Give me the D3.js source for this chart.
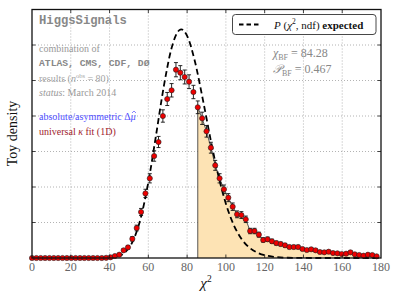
<!DOCTYPE html>
<html><head><meta charset="utf-8">
<script src="https://cdn.jsdelivr.net/npm/d3@7"></script>
<style>
html,body{margin:0;padding:0;background:#fff;}
svg{display:block;}
</style></head>
<body>
<svg id="chart" width="399" height="299"></svg>
<script>
// ---- data (toy density in units of 0.005) ----
const binCenters = [0,2.25,4.5,6.75,9,11.25,13.5,15.75,18,20.25,22.5,24.75,27,29.25,31.5,33.75,36,38.25,40.5,42.75,
45,47.25,49.5,51.75,54,56.25,58.5,60.75,63,65.25,67.5,69.75,72,74.25,76.5,78.75,81,83.25,85.5,87.75,
90,92.25,94.5,96.75,99,101.25,103.5,105.75,108,110.25,112.5,114.75,117,119.25,121.5,123.75,126,128.25,130.5,132.75,
135,137.25,139.5,141.75,144,146.25,148.5,150.75,153,155.25,157.5,159.75,162,164.25,166.5,168.75,171,173.25,175.5,177.75];
const toyDensity = [0,0,0,0,0,0,0,0,0,0,0,0,0,0,0,0,0,0.005,0.02,0.056,
0.093,0.217,0.30,0.54,0.845,1.296,1.82,2.245,2.873,3.268,4.0,4.479,4.724,5.304,5.22,5.099,4.966,4.676,4.245,3.935,
3.569,3.107,2.61,2.245,1.935,1.70,1.445,1.23,1.21,1.09,0.76,0.76,0.657,0.507,0.527,0.47,0.42,0.394,0.358,0.31,
0.31,0.31,0.254,0.225,0.245,0.217,0.169,0.16,0.177,0.14,0.132,0.113,0.121,0.16,0.104,0.085,0.065,0.093,0.085,0.048];
const toyError = [0,0,0,0,0,0,0,0,0,0,0,0,0,0,0,0,0,0.01,0.015,0.02,
0.027,0.04,0.048,0.064,0.08,0.1,0.117,0.13,0.147,0.157,0.174,0.184,0.189,0.2,0.199,0.196,0.194,0.188,0.179,0.173,
0.164,0.153,0.14,0.13,0.121,0.113,0.105,0.096,0.096,0.091,0.076,0.076,0.07,0.062,0.063,0.06,0.056,0.055,0.052,0.048,
0.048,0.048,0.044,0.041,0.043,0.04,0.036,0.035,0.037,0.033,0.032,0.029,0.03,0.035,0.028,0.025,0.022,0.027,0.025,0.019];
const expectedX = [0,20,32,36,40,44,48,52,56,60,64,68,72,76,77,80,84,88,92,96,100,104,108,112,116,120,124,128,132,136,140,150,180];
const expectedY = [0,0,0.0003,0.001,0.0078,0.0415,0.160,0.472,1.108,2.135,3.467,4.841,5.916,6.419,6.44,6.259,5.543,4.497,3.370,2.348,1.530,0.937,0.542,0.298,0.156,0.078,0.037,0.017,0.0075,0.003,0.001,0,0];
const xTicks = [0,20,40,60,80,100,120,140,160,180];
const yTicks = [0,1,2,3,4,5,6,7];
const chi2BF = 84.28;
const pBF = "0.467";

const SERIF = "'Liberation Serif','DejaVu Serif',serif";
const MONO = "'Liberation Mono','DejaVu Sans Mono',monospace";

// ---- layout ----
const L = 32, R = 381, T = 9.5, B = 258;
const svg = d3.select("#chart");
const x = d3.scaleLinear().domain([0,180]).range([L,R]);
const y = d3.scaleLinear().domain([0,7]).range([B,T]);

function txt(xp, yp, size, fill, fam){
  return svg.append("text").attr("x",xp).attr("y",yp)
    .style("font-family", fam || SERIF).style("font-size", size+"px").attr("fill",fill);
}

// grid
const grid = svg.append("g").attr("stroke","#a0a0a0").attr("stroke-width",0.8).attr("stroke-dasharray","1,2");
grid.selectAll("line.v").data(xTicks.slice(1,-1)).join("line")
  .attr("x1",d=>x(d)).attr("x2",d=>x(d)).attr("y1",T).attr("y2",B);
grid.selectAll("line.h").data(yTicks.slice(1,-1)).join("line")
  .attr("x1",L).attr("x2",R).attr("y1",d=>y(d)).attr("y2",d=>y(d));

// shaded tail area
const pts = binCenters.map((c,i)=>({x:c,v:toyDensity[i],e:toyError[i]}));
const tail = pts.filter(p=>p.x>=chi2BF);
svg.append("path").datum(tail)
  .attr("fill","#fde3b4")
  .attr("d", d3.area().x(d=>x(d.x)).y0(y(0)).y1(d=>y(d.v)));
const outline = [{x:tail[0].x,v:0}].concat(tail);
svg.append("path").datum(outline)
  .attr("fill","none").attr("stroke","#444").attr("stroke-width",0.9)
  .attr("d", d3.line().x(d=>x(d.x)).y(d=>y(d.v)));

// expected chi2 curve
svg.append("path").datum(expectedX.map((d,i)=>[d,expectedY[i]]))
  .attr("fill","none").attr("stroke","#000").attr("stroke-width",1.8)
  .attr("stroke-dasharray","6,3.5")
  .attr("d", d3.line().x(d=>x(d[0])).y(d=>y(d[1])).curve(d3.curveMonotoneX));

// error bars
const eb = svg.append("g").attr("stroke","#111").attr("stroke-width",0.9);
const withErr = pts.filter(p=>p.e>0);
eb.selectAll("line.bar").data(withErr).join("line")
  .attr("x1",d=>x(d.x)).attr("x2",d=>x(d.x)).attr("y1",d=>y(d.v-d.e)).attr("y2",d=>y(d.v+d.e));
eb.selectAll("line.capT").data(withErr).join("line")
  .attr("x1",d=>x(d.x)-2).attr("x2",d=>x(d.x)+2).attr("y1",d=>y(d.v+d.e)).attr("y2",d=>y(d.v+d.e));
eb.selectAll("line.capB").data(withErr).join("line")
  .attr("x1",d=>x(d.x)-2).attr("x2",d=>x(d.x)+2).attr("y1",d=>y(d.v-d.e)).attr("y2",d=>y(d.v-d.e));

// points
svg.append("g").selectAll("circle").data(pts).join("circle")
  .attr("cx",d=>x(d.x)).attr("cy",d=>y(d.v)).attr("r",2.6)
  .attr("fill","#ee0000").attr("stroke","#222").attr("stroke-width",0.6);

// frame and ticks
const ax = svg.append("g");
ax.append("rect").attr("x",L).attr("y",T).attr("width",R-L).attr("height",B-T)
  .attr("fill","none").attr("stroke","#111").attr("stroke-width",1.3);
const tk = ax.append("g").attr("stroke","#111").attr("stroke-width",0.8);
tk.selectAll("line.xb").data(xTicks.slice(1,-1)).join("line")
  .attr("x1",d=>x(d)).attr("x2",d=>x(d)).attr("y1",B).attr("y2",B-3.5);
tk.selectAll("line.xt").data(xTicks.slice(1,-1)).join("line")
  .attr("x1",d=>x(d)).attr("x2",d=>x(d)).attr("y1",T).attr("y2",T+3.5);
tk.selectAll("line.yl").data(yTicks.slice(1,-1)).join("line")
  .attr("x1",L).attr("x2",L+3.5).attr("y1",d=>y(d)).attr("y2",d=>y(d));
tk.selectAll("line.yr").data(yTicks.slice(1,-1)).join("line")
  .attr("x1",R).attr("x2",R-3.5).attr("y1",d=>y(d)).attr("y2",d=>y(d));

// x tick labels
ax.selectAll("text.xl").data(xTicks).join("text")
  .attr("x",d=>x(d)).attr("y",271).attr("text-anchor","middle")
  .style("font-family",SERIF).style("font-size","12px").attr("fill","#666").text(d=>d);

// axis titles
const xt = txt(206, 288, 15, "#111").attr("text-anchor","middle");
xt.append("tspan").style("font-style","italic").text("χ");
xt.append("tspan").style("font-size","9.5px").attr("dy",-6.5).text("2");
svg.append("text").attr("transform","translate(17,133.5) rotate(-90)").attr("text-anchor","middle")
  .style("font-family",SERIF).style("font-size","14px").attr("fill","#111").text("Toy density");

// annotation block
txt(39, 24, 12.2, "#888", MONO).style("font-weight","bold").text("HiggsSignals");
txt(39, 52, 10, "#999").text("combination of");
txt(39, 65.5, 9.7, "#888", MONO).style("font-weight","bold").text("ATLAS, CMS, CDF, DØ");
const rs = txt(39, 82, 10, "#a5a5a5");
rs.append("tspan").text("results (");
rs.append("tspan").style("font-style","italic").text("n");
rs.append("tspan").style("font-size","6.5px").attr("dy",-4).text("obs");
rs.append("tspan").attr("dy",4).text(" = 80)");
const st = txt(39, 96, 10, "#999");
st.append("tspan").style("font-style","italic").text("status");
st.append("tspan").text(": March 2014");
const ab = txt(39, 119.5, 10, "#5050ff");
ab.append("tspan").text("absolute/asymmetric Δ");
const mu = ab.append("tspan").style("font-style","italic").text("μ");
const abEnd = 39 + ab.node().getComputedTextLength();
const muW = mu.node().getComputedTextLength();
const hx = abEnd - muW/2 + 0.8;
svg.append("path").attr("d", `M${hx-2},${113} L${hx},${111} L${hx+2},${113}`)
  .attr("fill","none").attr("stroke","#5050ff").attr("stroke-width",0.7);
const un = txt(39, 134.5, 10, "#a01c2c");
un.append("tspan").text("universal ");
un.append("tspan").style("font-style","italic").text("κ");
un.append("tspan").text(" fit (1D)");

// legend
const lg = svg.append("g");
lg.append("rect").attr("x",232.5).attr("y",14.5).attr("width",143.5).attr("height",20).attr("rx",3)
  .attr("fill","#fff").attr("stroke","#333").attr("stroke-width",0.9);
lg.append("line").attr("x1",239).attr("x2",260).attr("y1",24.5).attr("y2",24.5)
  .attr("stroke","#000").attr("stroke-width",1.8).attr("stroke-dasharray","4.5,3");
const lt = txt(274, 28.5, 11, "#111");
lt.append("tspan").style("font-style","italic").text("P");
lt.append("tspan").text(" (");
lt.append("tspan").style("font-style","italic").text("χ");
lt.append("tspan").style("font-size","7.5px").attr("dy",-4.5).text("2");
lt.append("tspan").attr("dy",4.5).text(", ndf) ");
lt.append("tspan").style("font-weight","bold").text("expected");

// best-fit values
const c1 = txt(273, 57, 12, "#888");
c1.append("tspan").style("font-style","italic").text("χ");
c1.append("tspan").style("font-size","8px").attr("dy",3).text("BF");
c1.append("tspan").attr("dy",-3).text(" = " + chi2BF.toFixed(2));
const c2 = txt(273, 72.5, 12, "#888");
c2.append("tspan").style("font-style","italic").text("𝒫");
c2.append("tspan").style("font-size","8px").attr("dy",3).text("BF");
c2.append("tspan").attr("dy",-3).text(" = " + pBF);
</script>
</body></html>
